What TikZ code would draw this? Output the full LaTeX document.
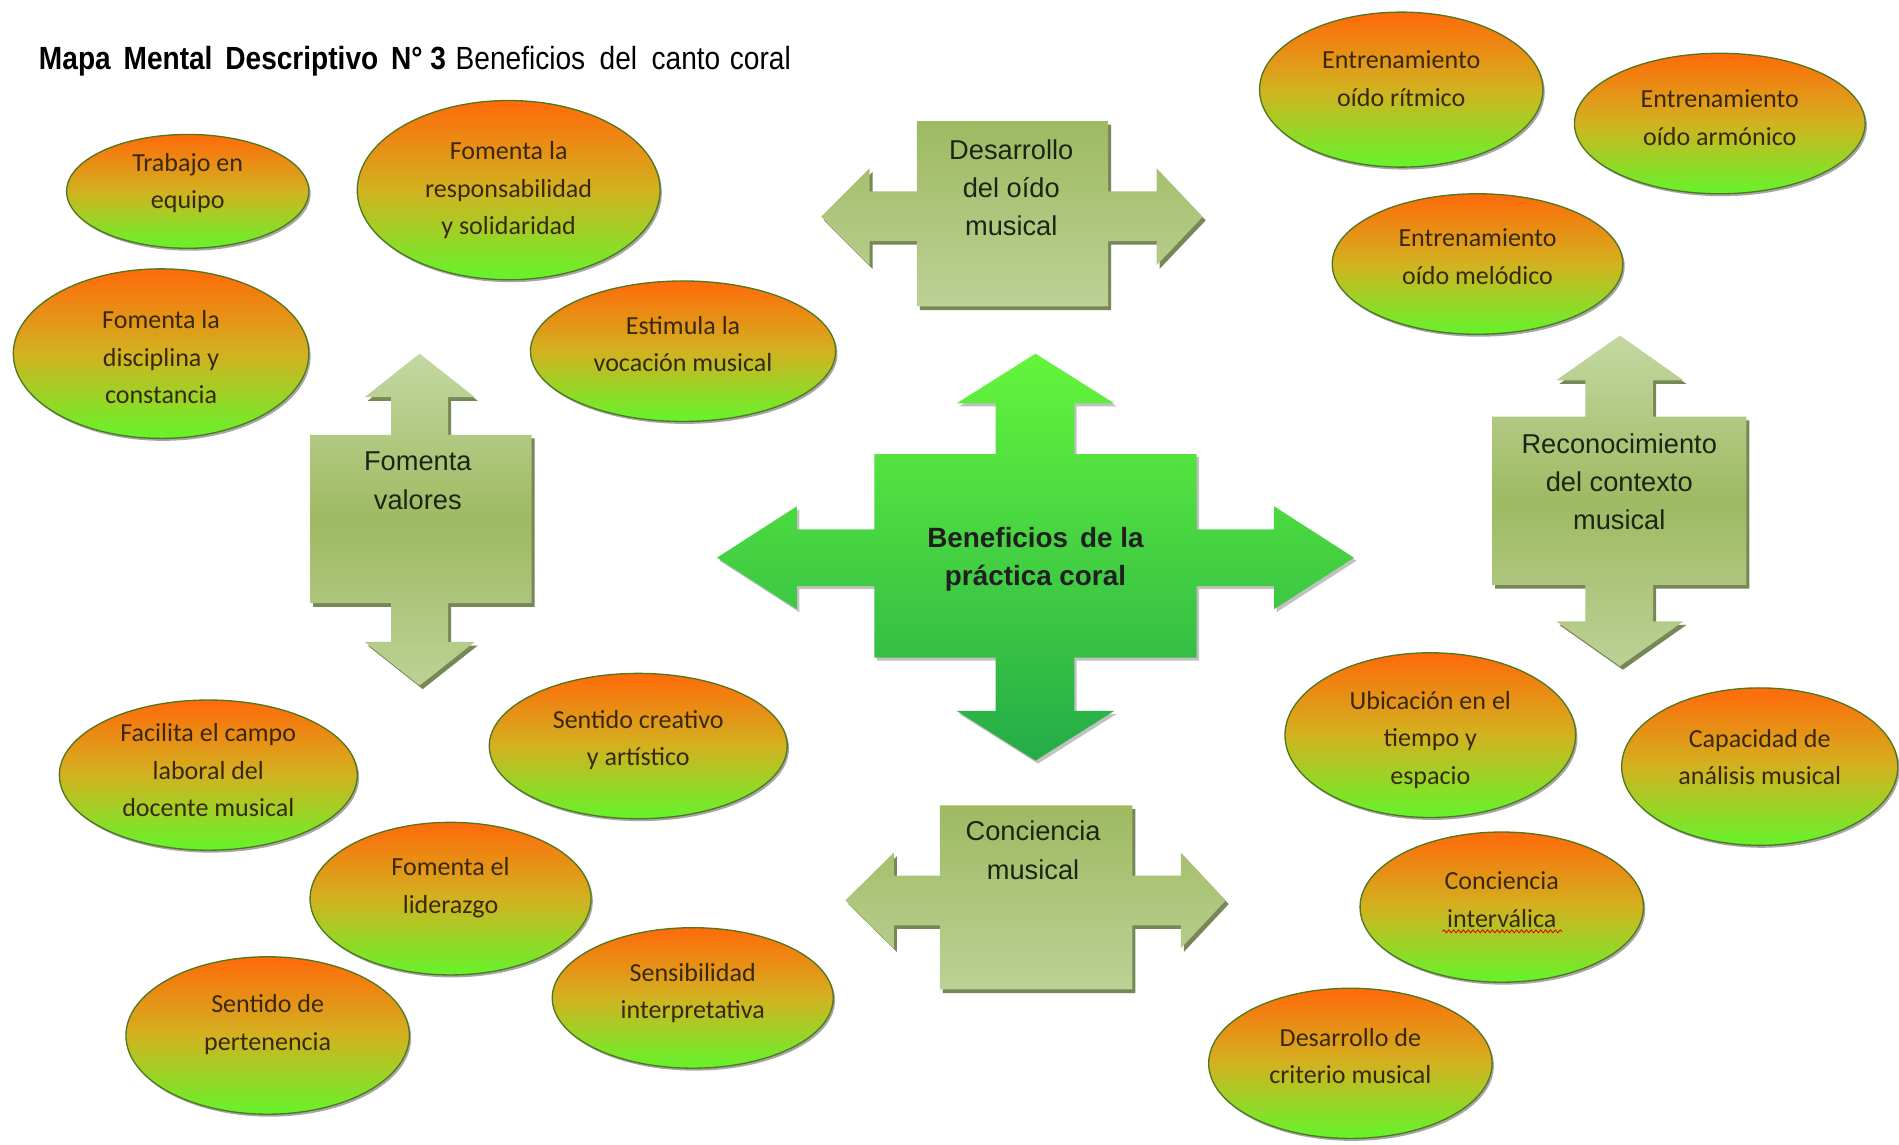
\documentclass[tikz,border=0pt]{standalone}
\usepackage{fontspec}
\setmainfont{Liberation Sans}
\newfontfamily\calib{Carlito}
\newfontfamily\titlefont[FakeStretch=0.875]{Liberation Sans}
\usetikzlibrary{shapes.geometric,shadows,decorations.pathmorphing}
\definecolor{ortop}{RGB}{255,106,10}
\definecolor{ormid}{RGB}{210,178,32}
\definecolor{grbot}{RGB}{100,244,44}
\definecolor{bubline}{RGB}{80,120,30}
\definecolor{bubtext}{RGB}{58,40,12}
\definecolor{olivetop}{RGB}{158,186,98}
\definecolor{olivebot}{RGB}{188,209,150}
\definecolor{olivelight}{RGB}{196,216,162}
\definecolor{oliveshadow}{RGB}{85,105,45}
\definecolor{boxtext}{RGB}{28,36,18}
\definecolor{crosstop}{RGB}{100,245,60}
\definecolor{crossbot}{RGB}{36,172,72}
\tikzset{
  bubble/.style={ellipse, draw=bubline, line width=1.1pt, inner sep=0pt,
    top color=ortop, bottom color=grbot, middle color=ormid,
    drop shadow={shadow xshift=1.5pt, shadow yshift=-2pt, fill=black, opacity=0.35}},
  btext/.style={align=center, font=\calib\fontsize{21.5}{31}\selectfont, text=bubtext, inner sep=0pt},
  boxtxt/.style={align=center, font=\fontsize{22.5}{31.5}\selectfont, text=boxtext, inner sep=0pt},
  olivehoriz/.style={top color=olivetop, bottom color=olivebot,
    drop shadow={shadow xshift=2.5pt, shadow yshift=-3pt, fill=oliveshadow, opacity=0.8}},
  olivevert/.style={top color=olivelight, bottom color=olivebot, middle color=olivetop,
    drop shadow={shadow xshift=2.5pt, shadow yshift=-3pt, fill=oliveshadow, opacity=0.8}},
  crossfill/.style={top color=crosstop, bottom color=crossbot,
    drop shadow={shadow xshift=2pt, shadow yshift=-2.5pt, fill=black!60, opacity=0.4}}
}
\begin{document}
\begin{tikzpicture}[x=1pt,y=-1pt]
\useasboundingbox[fill=white] (0,0) rectangle (1568,945.4);

% title
\node[anchor=base west, inner sep=0pt, font=\titlefont\fontsize{26.5}{30}\selectfont] (title) at (32,57)
  {\textbf{Mapa\hspace{0.4em}Mental\hspace{0.4em}Descriptivo\hspace{0.4em}N° 3}\hspace{0.3em}Beneficios\hspace{0.45em}del\hspace{0.45em}canto\hspace{0.3em}coral};

% central cross
\path[crossfill] (722,375) -- (822,375) -- (822,333) -- (790,333) -- (855,292) -- (920,333) -- (887,333) -- (887,375)
  -- (988,375) -- (988,437) -- (1052,437) -- (1052,418) -- (1118,460.5) -- (1052,503) -- (1052,484) -- (988,484)
  -- (988,543) -- (887,543) -- (887,587) -- (920,587) -- (855,628) -- (790,587) -- (822,587) -- (822,543)
  -- (722,543) -- (722,484) -- (658,484) -- (658,503) -- (592,460.5) -- (658,418) -- (658,437) -- (722,437) -- cycle;
\node[boxtxt, font=\bfseries\fontsize{23}{31}\selectfont, text=black!88] (center) at (855,462) {Beneficios\hspace{0.15em} de la\\práctica coral};

% A: Desarrollo del oido musical
\path[olivehoriz] (757,100) -- (915,100) -- (915,158) -- (955,158) -- (955,139) -- (993,179) -- (955,219) -- (955,199)
  -- (915,199) -- (915,253) -- (757,253) -- (757,199) -- (718,199) -- (718,219) -- (678,179) -- (718,139) -- (718,158)
  -- (757,158) -- cycle;
\node[boxtxt] (oido) at (835,155) {Desarrollo\\del oído\\musical};

% B: Conciencia musical
\path[olivehoriz] (776,665) -- (935,665) -- (935,723) -- (975,723) -- (975,704) -- (1012,743.5) -- (975,783) -- (975,764)
  -- (935,764) -- (935,817) -- (776,817) -- (776,764) -- (738,764) -- (738,783) -- (698,743.5) -- (738,704) -- (738,723)
  -- (776,723) -- cycle;
\node[boxtxt] (conc) at (853,702) {Conciencia\\musical};

% C: Fomenta valores
\path[olivevert] (256,359) -- (323,359) -- (323,328) -- (301,328) -- (346.5,292) -- (392,328) -- (370,328) -- (370,359)
  -- (439,359) -- (439,498) -- (370,498) -- (370,530) -- (392,530) -- (346.5,566) -- (301,530) -- (323,530) -- (323,498)
  -- (256,498) -- cycle;
\node[boxtxt] (valores) at (345,397) {Fomenta\\valores};

% D: Reconocimiento del contexto musical
\path[olivevert] (1232,344) -- (1309,344) -- (1309,314) -- (1285,314) -- (1337.5,277) -- (1390,314) -- (1365,314) -- (1365,344)
  -- (1442,344) -- (1442,483) -- (1365,483) -- (1365,513) -- (1390,513) -- (1337.5,550) -- (1285,513) -- (1309,513) -- (1309,483)
  -- (1232,483) -- cycle;
\node[boxtxt] (contexto) at (1337,398) {Reconocimiento\\del contexto\\musical};

% bubbles
\node[bubble, minimum width=200pt, minimum height=94pt] (e1) at (155,158) {};
\node[btext] (t1) at (155,151) {Trabajo en\\equipo};

\node[bubble, minimum width=250pt, minimum height=148pt] (e2) at (420,157) {};
\node[btext] (t2) at (420,157) {Fomenta la\\responsabilidad\\y solidaridad};

\node[bubble, minimum width=244pt, minimum height=140pt] (e3) at (133,292) {};
\node[btext] (t3) at (133,295) {Fomenta la\\disciplina y\\constancia};

\node[bubble, minimum width=252pt, minimum height=116pt] (e4) at (564,290) {};
\node[btext] (t4) at (564,284) {Estimula la\\vocación musical};

\node[bubble, minimum width=234pt, minimum height=128pt] (e5) at (1157,74) {};
\node[btext] (t5) at (1157,65) {Entrenamiento\\oído rítmico};

\node[bubble, minimum width=240pt, minimum height=116pt] (e6) at (1420,102) {};
\node[btext] (t6) at (1420,97) {Entrenamiento\\oído armónico};

\node[bubble, minimum width=240pt, minimum height=116pt] (e7) at (1220,218) {};
\node[btext] (t7) at (1220,212) {Entrenamiento\\oído melódico};

\node[bubble, minimum width=246pt, minimum height=124pt] (e8) at (172,640) {};
\node[btext] (t8) at (172,636) {Facilita el campo\\laboral del\\docente musical};

\node[bubble, minimum width=246pt, minimum height=120pt] (e9) at (527,616) {};
\node[btext] (t9) at (527,611) {Sentido creativo\\y artístico};

\node[bubble, minimum width=232pt, minimum height=126pt] (e10) at (372,742) {};
\node[btext] (t10) at (372,733) {Fomenta el\\liderazgo};

\node[bubble, minimum width=234pt, minimum height=130pt] (e11) at (221,855) {};
\node[btext] (t11) at (221,846) {Sentido de\\pertenencia};

\node[bubble, minimum width=232pt, minimum height=116pt] (e12) at (572,824) {};
\node[btext] (t12) at (572,820) {Sensibilidad\\interpretativa};

\node[bubble, minimum width=240pt, minimum height=136pt] (e13) at (1181,607) {};
\node[btext] (t13) at (1181,611) {Ubicación en el\\tiempo y\\espacio};

\node[bubble, minimum width=228pt, minimum height=130pt] (e14) at (1453,633) {};
\node[btext] (t14) at (1453,625) {Capacidad de\\análisis musical};

\node[bubble, minimum width=234pt, minimum height=124pt] (e15) at (1240,749) {};
\node[btext] (t15) at (1240,743) {Conciencia\\interválica};
\coordinate (w1) at (1191,769);
\coordinate (w2) at (1290,769);
\draw[red!85!black, line width=0.7pt, decorate, decoration={snake, amplitude=1.2pt, segment length=4pt}] (w1) -- (w2);

\node[bubble, minimum width=234pt, minimum height=124pt] (e16) at (1115,878) {};
\node[btext] (t16) at (1115,872) {Desarrollo de\\criterio musical};
\end{tikzpicture}
\end{document}
